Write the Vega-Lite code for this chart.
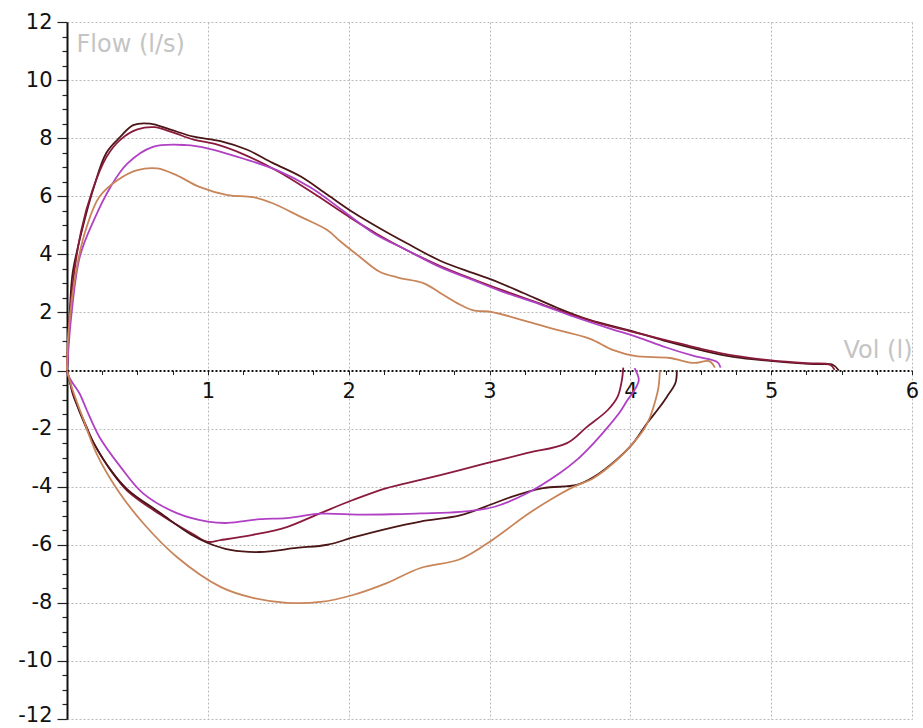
{
  "$schema": "https://vega.github.io/schema/vega-lite/v6.json",
  "width": 845,
  "height": 697,
  "autosize": {"type": "none"},
  "padding": {"left": 67, "top": 22, "right": 11, "bottom": 9},
  "background": "white",
  "config": {"view": {"stroke": null}},
  "data": {
    "values": [
      {"c":"S1e","s":"S1","i":0,"v":0,"f":0},{"c":"S1e","s":"S1","i":1,"v":0.02,"f":2.0},{"c":"S1e","s":"S1","i":2,"v":0.04,"f":3.35},{"c":"S1e","s":"S1","i":3,"v":0.11,"f":4.9},{"c":"S1e","s":"S1","i":4,"v":0.19,"f":6.3},{"c":"S1e","s":"S1","i":5,"v":0.28,"f":7.5},{"c":"S1e","s":"S1","i":6,"v":0.38,"f":8.05},{"c":"S1e","s":"S1","i":7,"v":0.47,"f":8.45},{"c":"S1e","s":"S1","i":8,"v":0.59,"f":8.5},{"c":"S1e","s":"S1","i":9,"v":0.73,"f":8.3},{"c":"S1e","s":"S1","i":10,"v":0.9,"f":8.05},{"c":"S1e","s":"S1","i":11,"v":1.09,"f":7.9},{"c":"S1e","s":"S1","i":12,"v":1.28,"f":7.6},{"c":"S1e","s":"S1","i":13,"v":1.46,"f":7.15},{"c":"S1e","s":"S1","i":14,"v":1.66,"f":6.68},{"c":"S1e","s":"S1","i":15,"v":1.85,"f":6.05},{"c":"S1e","s":"S1","i":16,"v":2.03,"f":5.45},{"c":"S1e","s":"S1","i":17,"v":2.22,"f":4.9},{"c":"S1e","s":"S1","i":18,"v":2.41,"f":4.39},{"c":"S1e","s":"S1","i":19,"v":2.65,"f":3.78},{"c":"S1e","s":"S1","i":20,"v":2.88,"f":3.36},{"c":"S1e","s":"S1","i":21,"v":3.02,"f":3.12},{"c":"S1e","s":"S1","i":22,"v":3.24,"f":2.67},{"c":"S1e","s":"S1","i":23,"v":3.48,"f":2.16},{"c":"S1e","s":"S1","i":24,"v":3.71,"f":1.74},{"c":"S1e","s":"S1","i":25,"v":4.03,"f":1.33},{"c":"S1e","s":"S1","i":26,"v":4.26,"f":1.0},{"c":"S1e","s":"S1","i":27,"v":4.5,"f":0.7},{"c":"S1e","s":"S1","i":28,"v":4.73,"f":0.47},{"c":"S1e","s":"S1","i":29,"v":5.09,"f":0.29},{"c":"S1e","s":"S1","i":30,"v":5.3,"f":0.22},{"c":"S1e","s":"S1","i":31,"v":5.44,"f":0.19},{"c":"S1e","s":"S1","i":32,"v":5.48,"f":0},

      {"c":"S2e","s":"S2","i":0,"v":0,"f":0},{"c":"S2e","s":"S2","i":1,"v":0.03,"f":2.5},{"c":"S2e","s":"S2","i":2,"v":0.1,"f":4.8},{"c":"S2e","s":"S2","i":3,"v":0.18,"f":6.2},{"c":"S2e","s":"S2","i":4,"v":0.28,"f":7.35},{"c":"S2e","s":"S2","i":5,"v":0.38,"f":7.95},{"c":"S2e","s":"S2","i":6,"v":0.5,"f":8.3},{"c":"S2e","s":"S2","i":7,"v":0.62,"f":8.38},{"c":"S2e","s":"S2","i":8,"v":0.75,"f":8.2},{"c":"S2e","s":"S2","i":9,"v":0.9,"f":7.95},{"c":"S2e","s":"S2","i":10,"v":1.05,"f":7.8},{"c":"S2e","s":"S2","i":11,"v":1.25,"f":7.45},{"c":"S2e","s":"S2","i":12,"v":1.5,"f":6.85},{"c":"S2e","s":"S2","i":13,"v":1.75,"f":6.1},{"c":"S2e","s":"S2","i":14,"v":2.0,"f":5.3},{"c":"S2e","s":"S2","i":15,"v":2.2,"f":4.7},{"c":"S2e","s":"S2","i":16,"v":2.41,"f":4.15},{"c":"S2e","s":"S2","i":17,"v":2.65,"f":3.6},{"c":"S2e","s":"S2","i":18,"v":2.88,"f":3.15},{"c":"S2e","s":"S2","i":19,"v":3.1,"f":2.75},{"c":"S2e","s":"S2","i":20,"v":3.36,"f":2.3},{"c":"S2e","s":"S2","i":21,"v":3.6,"f":1.9},{"c":"S2e","s":"S2","i":22,"v":3.8,"f":1.6},{"c":"S2e","s":"S2","i":23,"v":4.0,"f":1.35},{"c":"S2e","s":"S2","i":24,"v":4.25,"f":1.05},{"c":"S2e","s":"S2","i":25,"v":4.5,"f":0.75},{"c":"S2e","s":"S2","i":26,"v":4.75,"f":0.5},{"c":"S2e","s":"S2","i":27,"v":5.0,"f":0.35},{"c":"S2e","s":"S2","i":28,"v":5.25,"f":0.25},{"c":"S2e","s":"S2","i":29,"v":5.42,"f":0.2},{"c":"S2e","s":"S2","i":30,"v":5.45,"f":0.02},

      {"c":"S3e","s":"S3","i":0,"v":0,"f":0},{"c":"S3e","s":"S3","i":1,"v":0.03,"f":1.85},{"c":"S3e","s":"S3","i":2,"v":0.09,"f":3.9},{"c":"S3e","s":"S3","i":3,"v":0.19,"f":5.17},{"c":"S3e","s":"S3","i":4,"v":0.31,"f":6.33},{"c":"S3e","s":"S3","i":5,"v":0.43,"f":7.13},{"c":"S3e","s":"S3","i":6,"v":0.61,"f":7.7},{"c":"S3e","s":"S3","i":7,"v":0.85,"f":7.76},{"c":"S3e","s":"S3","i":8,"v":0.99,"f":7.66},{"c":"S3e","s":"S3","i":9,"v":1.25,"f":7.3},{"c":"S3e","s":"S3","i":10,"v":1.49,"f":6.9},{"c":"S3e","s":"S3","i":11,"v":1.73,"f":6.3},{"c":"S3e","s":"S3","i":12,"v":1.96,"f":5.5},{"c":"S3e","s":"S3","i":13,"v":2.18,"f":4.72},{"c":"S3e","s":"S3","i":14,"v":2.41,"f":4.15},{"c":"S3e","s":"S3","i":15,"v":2.65,"f":3.56},{"c":"S3e","s":"S3","i":16,"v":2.88,"f":3.12},{"c":"S3e","s":"S3","i":17,"v":3.1,"f":2.7},{"c":"S3e","s":"S3","i":18,"v":3.36,"f":2.28},{"c":"S3e","s":"S3","i":19,"v":3.6,"f":1.85},{"c":"S3e","s":"S3","i":20,"v":3.85,"f":1.45},{"c":"S3e","s":"S3","i":21,"v":4.05,"f":1.15},{"c":"S3e","s":"S3","i":22,"v":4.25,"f":0.8},{"c":"S3e","s":"S3","i":23,"v":4.45,"f":0.5},{"c":"S3e","s":"S3","i":24,"v":4.62,"f":0.28},{"c":"S3e","s":"S3","i":25,"v":4.64,"f":0.1},

      {"c":"S4e","s":"S4","i":0,"v":0,"f":0},{"c":"S4e","s":"S4","i":1,"v":0.01,"f":1.3},{"c":"S4e","s":"S4","i":2,"v":0.07,"f":3.57},{"c":"S4e","s":"S4","i":3,"v":0.14,"f":4.95},{"c":"S4e","s":"S4","i":4,"v":0.23,"f":5.98},{"c":"S4e","s":"S4","i":5,"v":0.36,"f":6.56},{"c":"S4e","s":"S4","i":6,"v":0.5,"f":6.9},{"c":"S4e","s":"S4","i":7,"v":0.64,"f":6.96},{"c":"S4e","s":"S4","i":8,"v":0.78,"f":6.72},{"c":"S4e","s":"S4","i":9,"v":0.94,"f":6.32},{"c":"S4e","s":"S4","i":10,"v":1.14,"f":6.04},{"c":"S4e","s":"S4","i":11,"v":1.32,"f":5.97},{"c":"S4e","s":"S4","i":12,"v":1.46,"f":5.76},{"c":"S4e","s":"S4","i":13,"v":1.66,"f":5.29},{"c":"S4e","s":"S4","i":14,"v":1.85,"f":4.83},{"c":"S4e","s":"S4","i":15,"v":1.94,"f":4.45},{"c":"S4e","s":"S4","i":16,"v":2.08,"f":3.91},{"c":"S4e","s":"S4","i":17,"v":2.22,"f":3.4},{"c":"S4e","s":"S4","i":18,"v":2.35,"f":3.2},{"c":"S4e","s":"S4","i":19,"v":2.53,"f":3.01},{"c":"S4e","s":"S4","i":20,"v":2.65,"f":2.67},{"c":"S4e","s":"S4","i":21,"v":2.77,"f":2.32},{"c":"S4e","s":"S4","i":22,"v":2.88,"f":2.08},{"c":"S4e","s":"S4","i":23,"v":3.02,"f":2.01},{"c":"S4e","s":"S4","i":24,"v":3.24,"f":1.73},{"c":"S4e","s":"S4","i":25,"v":3.48,"f":1.4},{"c":"S4e","s":"S4","i":26,"v":3.71,"f":1.1},{"c":"S4e","s":"S4","i":27,"v":3.88,"f":0.7},{"c":"S4e","s":"S4","i":28,"v":4.03,"f":0.5},{"c":"S4e","s":"S4","i":29,"v":4.28,"f":0.43},{"c":"S4e","s":"S4","i":30,"v":4.45,"f":0.26},{"c":"S4e","s":"S4","i":31,"v":4.56,"f":0.32},{"c":"S4e","s":"S4","i":32,"v":4.6,"f":0.1},

      {"c":"S2i","s":"S2","i":0,"v":3.95,"f":0.1},{"c":"S2i","s":"S2","i":1,"v":3.94,"f":-0.33},{"c":"S2i","s":"S2","i":2,"v":3.91,"f":-0.9},{"c":"S2i","s":"S2","i":3,"v":3.84,"f":-1.36},{"c":"S2i","s":"S2","i":4,"v":3.69,"f":-1.95},{"c":"S2i","s":"S2","i":5,"v":3.55,"f":-2.5},{"c":"S2i","s":"S2","i":6,"v":3.27,"f":-2.84},{"c":"S2i","s":"S2","i":7,"v":3.03,"f":-3.13},{"c":"S2i","s":"S2","i":8,"v":2.79,"f":-3.43},{"c":"S2i","s":"S2","i":9,"v":2.51,"f":-3.77},{"c":"S2i","s":"S2","i":10,"v":2.27,"f":-4.05},{"c":"S2i","s":"S2","i":11,"v":2.03,"f":-4.46},{"c":"S2i","s":"S2","i":12,"v":1.8,"f":-4.91},{"c":"S2i","s":"S2","i":13,"v":1.56,"f":-5.39},{"c":"S2i","s":"S2","i":14,"v":1.32,"f":-5.66},{"c":"S2i","s":"S2","i":15,"v":1.09,"f":-5.84},{"c":"S2i","s":"S2","i":16,"v":1.0,"f":-5.9},{"c":"S2i","s":"S2","i":17,"v":0.9,"f":-5.65},{"c":"S2i","s":"S2","i":18,"v":0.66,"f":-4.95},{"c":"S2i","s":"S2","i":19,"v":0.43,"f":-4.15},{"c":"S2i","s":"S2","i":20,"v":0.31,"f":-3.43},{"c":"S2i","s":"S2","i":21,"v":0.19,"f":-2.5},{"c":"S2i","s":"S2","i":22,"v":0.14,"f":-1.95},{"c":"S2i","s":"S2","i":23,"v":0.04,"f":-0.8},{"c":"S2i","s":"S2","i":24,"v":0.02,"f":-0.33},{"c":"S2i","s":"S2","i":25,"v":0,"f":0},

      {"c":"S1i","s":"S1","i":0,"v":4.33,"f":0},{"c":"S1i","s":"S1","i":1,"v":4.32,"f":-0.43},{"c":"S1i","s":"S1","i":2,"v":4.26,"f":-0.9},{"c":"S1i","s":"S1","i":3,"v":4.21,"f":-1.25},{"c":"S1i","s":"S1","i":4,"v":4.12,"f":-1.81},{"c":"S1i","s":"S1","i":5,"v":4.02,"f":-2.5},{"c":"S1i","s":"S1","i":6,"v":3.9,"f":-3.08},{"c":"S1i","s":"S1","i":7,"v":3.74,"f":-3.67},{"c":"S1i","s":"S1","i":8,"v":3.62,"f":-3.94},{"c":"S1i","s":"S1","i":9,"v":3.38,"f":-4.05},{"c":"S1i","s":"S1","i":10,"v":3.15,"f":-4.36},{"c":"S1i","s":"S1","i":11,"v":3.03,"f":-4.58},{"c":"S1i","s":"S1","i":12,"v":2.79,"f":-4.99},{"c":"S1i","s":"S1","i":13,"v":2.51,"f":-5.2},{"c":"S1i","s":"S1","i":14,"v":2.27,"f":-5.45},{"c":"S1i","s":"S1","i":15,"v":2.03,"f":-5.75},{"c":"S1i","s":"S1","i":16,"v":1.85,"f":-6.0},{"c":"S1i","s":"S1","i":17,"v":1.63,"f":-6.11},{"c":"S1i","s":"S1","i":18,"v":1.37,"f":-6.25},{"c":"S1i","s":"S1","i":19,"v":1.16,"f":-6.18},{"c":"S1i","s":"S1","i":20,"v":1.0,"f":-5.94},{"c":"S1i","s":"S1","i":21,"v":0.88,"f":-5.65},{"c":"S1i","s":"S1","i":22,"v":0.66,"f":-4.9},{"c":"S1i","s":"S1","i":23,"v":0.43,"f":-4.1},{"c":"S1i","s":"S1","i":24,"v":0.31,"f":-3.43},{"c":"S1i","s":"S1","i":25,"v":0.19,"f":-2.5},{"c":"S1i","s":"S1","i":26,"v":0.13,"f":-1.9},{"c":"S1i","s":"S1","i":27,"v":0.05,"f":-0.9},{"c":"S1i","s":"S1","i":28,"v":0.02,"f":-0.4},{"c":"S1i","s":"S1","i":29,"v":0,"f":0},

      {"c":"S3i","s":"S3","i":0,"v":4.03,"f":0.08},{"c":"S3i","s":"S3","i":1,"v":4.06,"f":-0.33},{"c":"S3i","s":"S3","i":2,"v":4.03,"f":-0.67},{"c":"S3i","s":"S3","i":3,"v":3.98,"f":-1.02},{"c":"S3i","s":"S3","i":4,"v":3.93,"f":-1.4},{"c":"S3i","s":"S3","i":5,"v":3.84,"f":-1.95},{"c":"S3i","s":"S3","i":6,"v":3.74,"f":-2.5},{"c":"S3i","s":"S3","i":7,"v":3.62,"f":-3.08},{"c":"S3i","s":"S3","i":8,"v":3.5,"f":-3.53},{"c":"S3i","s":"S3","i":9,"v":3.27,"f":-4.22},{"c":"S3i","s":"S3","i":10,"v":3.03,"f":-4.7},{"c":"S3i","s":"S3","i":11,"v":2.79,"f":-4.87},{"c":"S3i","s":"S3","i":12,"v":2.51,"f":-4.92},{"c":"S3i","s":"S3","i":13,"v":2.3,"f":-4.95},{"c":"S3i","s":"S3","i":14,"v":2.08,"f":-4.96},{"c":"S3i","s":"S3","i":15,"v":1.8,"f":-4.93},{"c":"S3i","s":"S3","i":16,"v":1.56,"f":-5.08},{"c":"S3i","s":"S3","i":17,"v":1.37,"f":-5.12},{"c":"S3i","s":"S3","i":18,"v":1.14,"f":-5.25},{"c":"S3i","s":"S3","i":19,"v":1.0,"f":-5.2},{"c":"S3i","s":"S3","i":20,"v":0.78,"f":-4.91},{"c":"S3i","s":"S3","i":21,"v":0.54,"f":-4.23},{"c":"S3i","s":"S3","i":22,"v":0.38,"f":-3.32},{"c":"S3i","s":"S3","i":23,"v":0.23,"f":-2.29},{"c":"S3i","s":"S3","i":24,"v":0.14,"f":-1.36},{"c":"S3i","s":"S3","i":25,"v":0.09,"f":-0.8},{"c":"S3i","s":"S3","i":26,"v":0.04,"f":-0.43},{"c":"S3i","s":"S3","i":27,"v":0,"f":-0.1},

      {"c":"S4i","s":"S4","i":0,"v":4.21,"f":0},{"c":"S4i","s":"S4","i":1,"v":4.2,"f":-0.57},{"c":"S4i","s":"S4","i":2,"v":4.18,"f":-1.0},{"c":"S4i","s":"S4","i":3,"v":4.14,"f":-1.6},{"c":"S4i","s":"S4","i":4,"v":4.1,"f":-2.0},{"c":"S4i","s":"S4","i":5,"v":4.02,"f":-2.5},{"c":"S4i","s":"S4","i":6,"v":3.9,"f":-3.1},{"c":"S4i","s":"S4","i":7,"v":3.74,"f":-3.7},{"c":"S4i","s":"S4","i":8,"v":3.6,"f":-4.0},{"c":"S4i","s":"S4","i":9,"v":3.45,"f":-4.4},{"c":"S4i","s":"S4","i":10,"v":3.27,"f":-4.95},{"c":"S4i","s":"S4","i":11,"v":3.03,"f":-5.8},{"c":"S4i","s":"S4","i":12,"v":2.79,"f":-6.5},{"c":"S4i","s":"S4","i":13,"v":2.51,"f":-6.8},{"c":"S4i","s":"S4","i":14,"v":2.27,"f":-7.32},{"c":"S4i","s":"S4","i":15,"v":2.03,"f":-7.73},{"c":"S4i","s":"S4","i":16,"v":1.8,"f":-7.97},{"c":"S4i","s":"S4","i":17,"v":1.56,"f":-8.0},{"c":"S4i","s":"S4","i":18,"v":1.32,"f":-7.83},{"c":"S4i","s":"S4","i":19,"v":1.09,"f":-7.45},{"c":"S4i","s":"S4","i":20,"v":0.78,"f":-6.42},{"c":"S4i","s":"S4","i":21,"v":0.54,"f":-5.25},{"c":"S4i","s":"S4","i":22,"v":0.36,"f":-4.12},{"c":"S4i","s":"S4","i":23,"v":0.21,"f":-2.86},{"c":"S4i","s":"S4","i":24,"v":0.11,"f":-1.6},{"c":"S4i","s":"S4","i":25,"v":0.04,"f":-0.67},{"c":"S4i","s":"S4","i":26,"v":0,"f":0}
    ]
  },
  "mark": {"type": "line", "strokeWidth": 1.8, "interpolate": "catmull-rom"},
  "encoding": {
    "x": {
      "field": "v", "type": "quantitative",
      "scale": {"domain": [0, 6], "nice": false, "zero": false},
      "axis": {
        "orient": "bottom",
        "offset": -348.5,
        "values": [0,0.25,0.5,0.75,1,1.25,1.5,1.75,2,2.25,2.5,2.75,3,3.25,3.5,3.75,4,4.25,4.5,4.75,5,5.25,5.5,5.75,6],
        "labelExpr": "datum.value > 0 && datum.value % 1 === 0 ? '' + datum.value : ''",
        "labelOverlap": false,
        "labelFlush": false,
        "labelFont": "DejaVu Sans",
        "labelFontSize": 21,
        "labelColor": "#111111",
        "labelPadding": 6,
        "tickSize": 4,
        "tickColor": "#222222",
        "tickWidth": 1,
        "domainColor": "#111111",
        "domainWidth": 2,
        "domainDash": [2, 2],
        "grid": true,
        "gridColor": "#b8b8b8",
        "gridDash": [2, 2],
        "gridWidth": 1,
        "gridOpacity": {"condition": {"test": "datum.value > 0 && datum.value % 1 === 0", "value": 1}, "value": 0},
        "title": "Vol (l)",
        "titleFont": "DejaVu Sans",
        "titleFontSize": 24,
        "titleFontWeight": "normal",
        "titleColor": "#c4c4c4",
        "titleAngle": 0,
        "titleAlign": "right",
        "titleBaseline": "alphabetic",
        "titleX": 845,
        "titleY": -13
      }
    },
    "y": {
      "field": "f", "type": "quantitative",
      "scale": {"domain": [-12, 12], "nice": false, "zero": false},
      "axis": {
        "orient": "left",
        "values": [-12,-11.5,-11,-10.5,-10,-9.5,-9,-8.5,-8,-7.5,-7,-6.5,-6,-5.5,-5,-4.5,-4,-3.5,-3,-2.5,-2,-1.5,-1,-0.5,0,0.5,1,1.5,2,2.5,3,3.5,4,4.5,5,5.5,6,6.5,7,7.5,8,8.5,9,9.5,10,10.5,11,11.5,12],
        "labelExpr": "datum.value % 2 === 0 ? '' + datum.value : ''",
        "labelOverlap": false,
        "labelFlush": false,
        "labelFont": "DejaVu Sans",
        "labelFontSize": 21,
        "labelColor": "#111111",
        "labelPadding": 5,
        "labelOffset": {"condition": {"test": "datum.value === -12", "value": -4}, "value": 0},
        "tickSize": {"condition": {"test": "datum.value % 2 === 0", "value": 10}, "value": 5},
        "tickColor": "#222222",
        "tickWidth": 1.2,
        "domainColor": "#111111",
        "domainWidth": 2,
        "grid": true,
        "gridColor": "#b8b8b8",
        "gridDash": [2, 2],
        "gridWidth": 1,
        "gridOpacity": {"condition": {"test": "datum.value % 2 === 0 && datum.value !== 0", "value": 1}, "value": 0},
        "title": "Flow (l/s)",
        "titleFont": "DejaVu Sans",
        "titleFontSize": 24,
        "titleFontWeight": "normal",
        "titleColor": "#c4c4c4",
        "titleAngle": 0,
        "titleAlign": "left",
        "titleBaseline": "alphabetic",
        "titleX": 9,
        "titleY": 29
      }
    },
    "color": {
      "field": "s", "type": "nominal",
      "scale": {"domain": ["S1", "S2", "S3", "S4"], "range": ["#4a1616", "#8a1a3c", "#b040c4", "#c9855a"]},
      "legend": null
    },
    "detail": {"field": "c", "type": "nominal"},
    "order": {"field": "i", "type": "quantitative"}
  }
}
